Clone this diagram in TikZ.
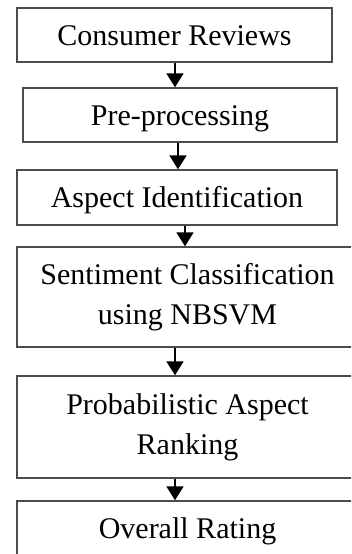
\documentclass[tikz,border=0pt]{standalone}
\usepackage{fontspec}
\setmainfont{Liberation Serif}
\usetikzlibrary{arrows.meta}
\begin{document}
\begin{tikzpicture}[x=1pt,y=-1pt,
  stage/.style={draw=black!70, line width=1.4pt, inner sep=0pt,
    font=\fontsize{30}{40}\selectfont, align=center},
  oneline/.style={stage, text height=20pt, text depth=0pt},
  flow/.style={line width=1.8pt, -{Triangle[width=17pt,length=14pt]}}]
  \useasboundingbox (0,0) rectangle (351,554);
  \clip (0,0) rectangle (351,554);

  \node[oneline, minimum width=315pt, minimum height=54pt] (b1) at (174.5,35) {Consumer Reviews};
  \node[oneline, minimum width=314pt, minimum height=54pt] (b2) at (180,115) {Pre-processing};
  \node[oneline, minimum width=320pt, minimum height=55pt] (b3) at (177,197.5) {Aspect Identification};
  \node[stage, minimum width=341pt, minimum height=100pt] (b4) at (187.5,297) {Sentiment Classification\\using NBSVM};
  \node[stage, minimum width=341pt, minimum height=102pt] (b5) at (187.5,427) {Probabilistic Aspect\\Ranking};
  \node[oneline, minimum width=341pt, minimum height=54pt] (b6) at (187.5,528) {Overall Rating};

  \draw[flow] (175,0 |- b1.south) -- (175,0 |- b2.north);
  \draw[flow] (178,0 |- b2.south) -- (178,0 |- b3.north);
  \draw[flow] (185,0 |- b3.south) -- (185,0 |- b4.north);
  \draw[flow] (175,0 |- b4.south) -- (175,0 |- b5.north);
  \draw[flow] (175,0 |- b5.south) -- (175,0 |- b6.north);
\end{tikzpicture}
\end{document}
